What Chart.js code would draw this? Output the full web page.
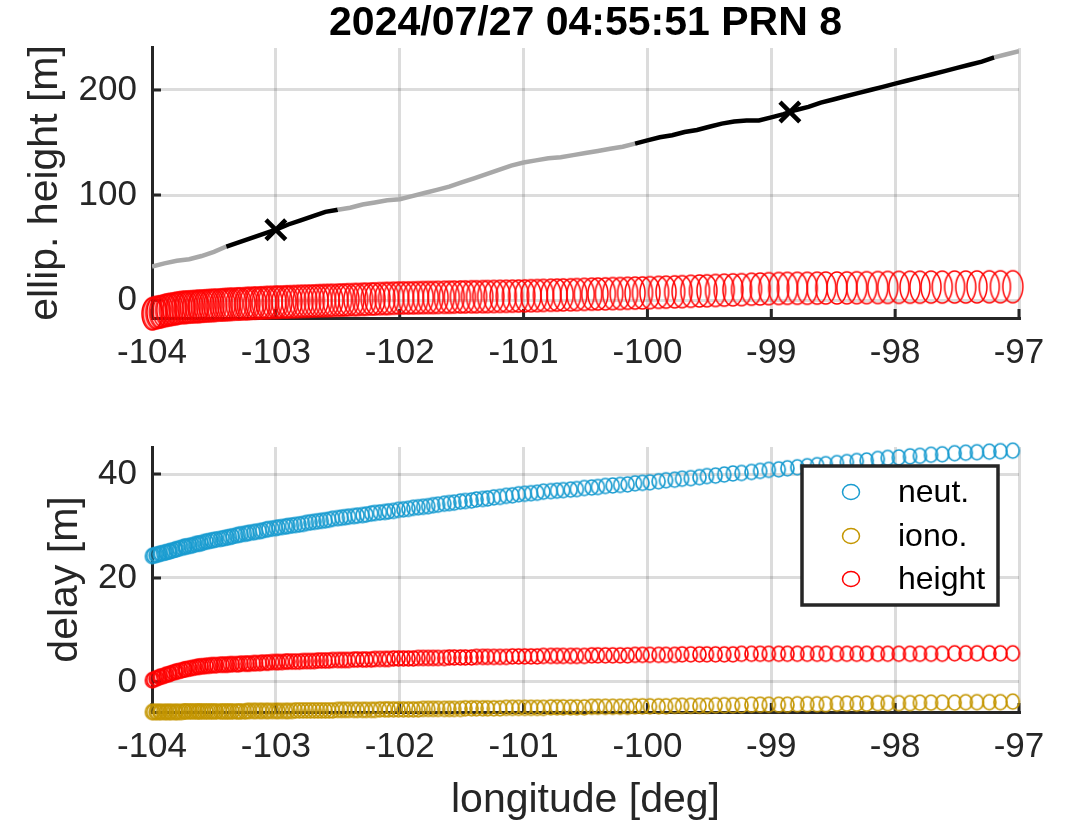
<!DOCTYPE html>
<html><head><meta charset="utf-8">
<script src="https://cdn.jsdelivr.net/npm/chart.js@4/dist/chart.umd.min.js"></script>
<style>
html,body{margin:0;padding:0;background:#fff;}
#wrap{position:relative;width:1066px;height:826px;overflow:hidden;}
canvas{position:absolute;left:0;}
#c1{top:0;} #c2{top:400px;}
</style></head><body>
<div id="wrap"><canvas id="c1" width="1066" height="400"></canvas><canvas id="c2" width="1066" height="426"></canvas></div>
<script>
const titleText = '2024/07/27 04:55:51 PRN 8';
const xTicks = [-104,-103,-102,-101,-100,-99,-98,-97];
const yTicksTop = [0,100,200];
const yTicksBottom = [0,20,40];
const seriesLabels = ['neut.','iono.','height'];

const lon = [-104.00,-103.99,-103.97,-103.96,-103.94,-103.93,-103.91,-103.89,-103.88,-103.86,
 -103.85,-103.83,-103.81,-103.80,-103.78,-103.76,-103.74,-103.73,-103.71,-103.69,
 -103.67,-103.65,-103.63,-103.62,-103.60,-103.58,-103.56,-103.54,-103.52,-103.50,
 -103.48,-103.45,-103.43,-103.41,-103.39,-103.37,-103.35,-103.32,-103.30,-103.28,
 -103.25,-103.23,-103.21,-103.18,-103.16,-103.13,-103.11,-103.08,-103.06,-103.03,
 -103.00,-102.98,-102.95,-102.92,-102.90,-102.87,-102.84,-102.81,-102.78,-102.75,
 -102.72,-102.69,-102.66,-102.63,-102.60,-102.57,-102.54,-102.50,-102.47,-102.44,
 -102.41,-102.37,-102.34,-102.30,-102.27,-102.23,-102.20,-102.16,-102.12,-102.09,
 -102.05,-102.01,-101.97,-101.93,-101.89,-101.85,-101.81,-101.77,-101.73,-101.69,
 -101.64,-101.60,-101.56,-101.51,-101.47,-101.42,-101.38,-101.33,-101.29,-101.24,
 -101.19,-101.14,-101.09,-101.04,-100.99,-100.94,-100.89,-100.84,-100.78,-100.73,
 -100.68,-100.62,-100.57,-100.51,-100.45,-100.40,-100.34,-100.28,-100.22,-100.16,
 -100.10,-100.04,-99.98,-99.91,-99.85,-99.78,-99.72,-99.65,-99.58,-99.52,
 -99.45,-99.38,-99.31,-99.24,-99.16,-99.09,-99.02,-98.94,-98.87,-98.79,
 -98.71,-98.63,-98.56,-98.47,-98.39,-98.31,-98.23,-98.14,-98.06,-97.97,
 -97.88,-97.80,-97.71,-97.62,-97.52,-97.43,-97.34,-97.24,-97.15,-97.05];

const heightTop = [-13.0,-12.7,-12.0,-11.7,-11.3,-11.0,-10.4,-9.8,-9.5,-9.1,
 -8.8,-8.5,-8.1,-7.8,-7.4,-7.0,-6.9,-6.8,-6.6,-6.4,
 -6.3,-6.1,-6.0,-5.9,-5.7,-5.6,-5.4,-5.3,-5.1,-5.0,
 -4.8,-4.6,-4.5,-4.3,-4.2,-4.0,-3.9,-3.7,-3.6,-3.6,
 -3.4,-3.2,-3.1,-2.9,-2.8,-2.7,-2.6,-2.4,-2.3,-2.1,
 -2.0,-1.9,-1.8,-1.7,-1.6,-1.5,-1.4,-1.2,-1.1,-1.0,
 -0.9,-0.8,-0.6,-0.5,-0.4,-0.3,-0.2,0.0,0.1,0.2,
 0.4,0.5,0.6,0.8,0.9,1.1,1.2,1.4,1.5,1.6,
 1.8,2.0,2.1,2.1,2.2,2.3,2.4,2.5,2.5,2.6,
 2.7,2.8,2.9,3.0,3.1,3.2,3.2,3.3,3.4,3.5,
 3.6,3.7,3.8,3.9,4.0,4.2,4.3,4.5,4.7,4.8,
 5.0,5.1,5.3,5.5,5.7,5.8,6.0,6.2,6.3,6.5,
 6.7,6.9,7.1,7.4,7.6,7.9,8.1,8.4,8.7,8.9,
 9.2,9.5,9.8,10.0,10.4,10.6,10.9,11.1,11.2,11.3,
 11.3,11.4,11.5,11.6,11.7,11.8,11.9,12.0,12.1,12.2,
 12.3,12.3,12.4,12.4,12.5,12.5,12.6,12.7,12.7,12.8];

const neut = [24.2,24.3,24.4,24.5,24.6,24.7,24.8,24.9,25.0,25.1,
 25.2,25.3,25.5,25.5,25.7,25.8,26.0,26.0,26.1,26.2,
 26.3,26.5,26.6,26.6,26.7,26.9,27.0,27.1,27.2,27.3,
 27.4,27.5,27.6,27.7,27.8,27.9,28.0,28.2,28.3,28.4,
 28.5,28.6,28.7,28.8,28.9,29.0,29.1,29.3,29.4,29.5,
 29.6,29.7,29.8,29.9,30.0,30.1,30.2,30.3,30.4,30.6,
 30.7,30.8,30.9,31.0,31.1,31.2,31.4,31.5,31.6,31.7,
 31.8,31.9,32.0,32.1,32.2,32.4,32.5,32.6,32.7,32.8,
 32.9,33.1,33.2,33.3,33.5,33.6,33.7,33.8,34.0,34.1,
 34.3,34.4,34.5,34.7,34.8,34.9,35.1,35.2,35.3,35.5,
 35.6,35.8,35.9,36.1,36.2,36.3,36.4,36.6,36.7,36.8,
 36.9,37.0,37.1,37.3,37.4,37.5,37.7,37.8,37.9,38.0,
 38.2,38.3,38.4,38.6,38.8,38.9,39.1,39.2,39.4,39.6,
 39.7,39.9,40.1,40.2,40.4,40.6,40.8,40.9,41.1,41.3,
 41.5,41.7,41.9,42.1,42.3,42.5,42.6,42.9,43.1,43.2,
 43.4,43.5,43.7,43.8,44.0,44.1,44.2,44.3,44.4,44.5];

const iono = [-5.8,-5.8,-5.8,-5.8,-5.8,-5.8,-5.8,-5.8,-5.8,-5.8,
 -5.8,-5.8,-5.8,-5.8,-5.8,-5.8,-5.7,-5.7,-5.7,-5.7,
 -5.7,-5.7,-5.7,-5.7,-5.7,-5.7,-5.7,-5.7,-5.7,-5.7,
 -5.7,-5.7,-5.7,-5.7,-5.7,-5.7,-5.7,-5.7,-5.7,-5.7,
 -5.7,-5.6,-5.6,-5.6,-5.6,-5.6,-5.6,-5.6,-5.6,-5.6,
 -5.6,-5.6,-5.6,-5.6,-5.6,-5.6,-5.5,-5.5,-5.5,-5.5,
 -5.5,-5.5,-5.5,-5.5,-5.5,-5.5,-5.5,-5.4,-5.4,-5.4,
 -5.4,-5.4,-5.4,-5.4,-5.4,-5.4,-5.4,-5.3,-5.3,-5.3,
 -5.3,-5.3,-5.3,-5.3,-5.3,-5.3,-5.2,-5.2,-5.2,-5.2,
 -5.2,-5.2,-5.2,-5.2,-5.1,-5.1,-5.1,-5.1,-5.1,-5.1,
 -5.1,-5.0,-5.0,-5.0,-5.0,-5.0,-5.0,-5.0,-4.9,-4.9,
 -4.9,-4.9,-4.9,-4.9,-4.8,-4.8,-4.8,-4.8,-4.8,-4.8,
 -4.7,-4.7,-4.7,-4.7,-4.7,-4.6,-4.6,-4.6,-4.6,-4.6,
 -4.5,-4.5,-4.5,-4.5,-4.4,-4.4,-4.4,-4.4,-4.4,-4.3,
 -4.3,-4.3,-4.3,-4.2,-4.2,-4.2,-4.2,-4.1,-4.1,-4.1,
 -4.1,-4.0,-4.0,-4.0,-4.0,-3.9,-3.9,-3.9,-3.9,-3.8];

const heightDelay = [0.3,0.4,0.6,0.7,0.9,1.0,1.1,1.3,1.4,1.5,
 1.6,1.8,1.9,2.0,2.1,2.2,2.4,2.4,2.5,2.6,
 2.7,2.8,2.9,2.9,3.0,3.0,3.1,3.1,3.2,3.2,
 3.2,3.3,3.3,3.3,3.3,3.4,3.4,3.4,3.4,3.5,
 3.5,3.5,3.5,3.6,3.6,3.6,3.7,3.7,3.7,3.8,
 3.8,3.8,3.8,3.9,3.9,3.9,3.9,3.9,4.0,4.0,
 4.0,4.0,4.1,4.1,4.1,4.1,4.2,4.2,4.2,4.2,
 4.2,4.3,4.3,4.3,4.3,4.3,4.4,4.4,4.4,4.4,
 4.5,4.5,4.5,4.5,4.5,4.6,4.6,4.6,4.6,4.6,
 4.6,4.7,4.7,4.7,4.7,4.7,4.8,4.8,4.8,4.8,
 4.8,4.8,4.9,4.9,4.9,4.9,4.9,5.0,5.0,5.0,
 5.0,5.0,5.0,5.0,5.1,5.1,5.1,5.1,5.1,5.1,
 5.2,5.2,5.2,5.2,5.2,5.2,5.3,5.3,5.3,5.3,
 5.3,5.3,5.3,5.4,5.4,5.4,5.4,5.4,5.4,5.4,
 5.4,5.4,5.4,5.4,5.4,5.4,5.4,5.4,5.4,5.4,
 5.4,5.4,5.4,5.4,5.5,5.5,5.5,5.5,5.5,5.5];

const lineLon = [-104.0,-103.9,-103.8,-103.7,-103.6,-103.5,-103.4,-103.3,-103.2,-103.1,
 -103.0,-102.9,-102.8,-102.7,-102.6,-102.5,-102.4,-102.3,-102.2,-102.1,
 -102.0,-101.9,-101.8,-101.7,-101.6,-101.5,-101.4,-101.3,-101.2,-101.1,
 -101.0,-100.9,-100.8,-100.7,-100.6,-100.5,-100.4,-100.3,-100.2,-100.1,
 -100.0,-99.9,-99.8,-99.7,-99.6,-99.5,-99.4,-99.3,-99.2,-99.1,
 -99.0,-98.9,-98.8,-98.7,-98.6,-98.5,-98.4,-98.3,-98.2,-98.1,
 -98.0,-97.9,-97.8,-97.7,-97.6,-97.5,-97.4,-97.3,-97.2,-97.1,-97.0];
const ellipHeight = [32,35,37.5,39,42,46,51,55,59,63,
 67,72,76,80,84,86,88,91,93,95,
 96,99,102,105,108,112,116,120,124,128,
 131,133,135,136,138,140,142,144,146,149,
 152,155,157,160,162,165,168,170,171,171,
 174,177,181,184,188,191,194,197,200,203,
 206,209,212,215,218,221,224,227,231,234,237];
// 1 = black segment, 0 = gray segment (segment starting at that point)
const lineState = [0,0,0,0,0,0,1,1,1,1,
 1,1,1,1,1,0,0,0,0,0,
 0,0,0,0,0,0,0,0,0,0,
 0,0,0,0,0,0,0,0,0,1,
 1,1,1,1,1,1,1,1,1,1,
 1,1,1,1,1,1,1,1,1,1,
 1,1,1,1,1,1,1,1,0,0,0];
const markLon = [-103.0,-98.85];
const markHeight = [67,179];

const FONT = "'Liberation Sans', Arial, Helvetica, sans-serif";
const AX = '#262626';
const GRID = 'rgba(38,38,38,0.16)';
const C_NEUT = '#1a9cd0';
const C_IONO = '#c49600';
const C_HGT = '#ff0000';
const C_GRAY = '#a8a8a8';

function ellipseImg(w, h, color, lw){
  const c = document.createElement('canvas');
  c.width = Math.ceil(w + lw + 2); c.height = Math.ceil(h + lw + 2);
  const g = c.getContext('2d');
  g.strokeStyle = color; g.lineWidth = lw;
  g.beginPath(); g.ellipse(c.width/2, c.height/2, w/2, h/2, 0, 0, Math.PI*2); g.stroke();
  return c;
}
const bigRed = ellipseImg(20, 32, C_HGT, 1.5);
const smNeut = ellipseImg(13, 15, C_NEUT, 1.7);
const smIono = ellipseImg(13, 15, C_IONO, 1.7);
const smHgt = ellipseImg(13, 15, C_HGT, 1.7);

function pts(xs, ys){ return xs.map((x,i)=>({x:x, y:ys[i]})); }

function xScale(h, withTitle){
  return {
    type:'linear', min:-104, max:-97,
    afterBuildTicks: s => { s.ticks = xTicks.map(v=>({value:v})); },
    afterFit: s => { s.height = h; s.paddingLeft = 0; s.paddingRight = 0; },
    ticks:{ font:{family:FONT,size:35}, color:AX, padding:14, maxRotation:0, autoSkip:false, callback: v => String(v) },
    grid:{ color:GRID, lineWidth:3, drawTicks:false },
    border:{ color:AX, width:3 },
    title: withTitle ? { display:true, text:'longitude [deg]', color:AX, font:{family:FONT,size:41}, padding:{top:0,bottom:1} } : {display:false}
  };
}
function yScale(min, max, ticks, label, titlePad){
  return {
    type:'linear', min:min, max:max,
    afterBuildTicks: s => { s.ticks = ticks.map(v=>({value:v})); },
    afterFit: s => { s.width = 152; s.paddingTop = 0; s.paddingBottom = 0; },
    ticks:{ font:{family:FONT,size:35}, color:AX, padding:15, callback: v => String(v) },
    grid:{ color:GRID, lineWidth:3, drawTicks:false },
    border:{ color:AX, width:3 },
    title:{ display:true, text:label, color:AX, font:{family:FONT,size:41}, padding:{top:titlePad,bottom:0} }
  };
}

const inTicks = {
  id:'inTicks',
  beforeDatasetsDraw(chart){
    const ctx = chart.ctx, a = chart.chartArea, x = chart.scales.x, y = chart.scales.y;
    ctx.save(); ctx.strokeStyle = AX; ctx.lineWidth = 3; ctx.beginPath();
    x.ticks.forEach(t => { const p = x.getPixelForValue(t.value); ctx.moveTo(p, a.bottom); ctx.lineTo(p, a.bottom - 9); });
    y.ticks.forEach(t => { const p = y.getPixelForValue(t.value); ctx.moveTo(a.left, p); ctx.lineTo(a.left + 9, p); });
    ctx.stroke(); ctx.restore();
  }
};

const boxLegend = {
  id:'boxLegend',
  afterDatasetsDraw(chart){
    const ctx = chart.ctx;
    const bx = 802, by = 66, bw = 196, bh = 139;
    ctx.save();
    ctx.fillStyle = '#fff'; ctx.fillRect(bx, by, bw, bh);
    ctx.strokeStyle = AX; ctx.lineWidth = 3.5; ctx.strokeRect(bx, by, bw, bh);
    const rows = [92, 136, 179];
    chart.data.datasets.forEach((ds, i) => {
      ctx.strokeStyle = ds.legendColor; ctx.lineWidth = 1.5;
      ctx.beginPath(); ctx.ellipse(851, rows[i], 8.5, 7.5, 0, 0, Math.PI*2); ctx.stroke();
      ctx.fillStyle = '#000'; ctx.font = '32px ' + FONT; ctx.textBaseline = 'middle'; ctx.textAlign = 'left';
      ctx.fillText(ds.label, 898, rows[i] + 1);
    });
    ctx.restore();
  }
};

const common = { responsive:false, animation:false, devicePixelRatio:1, events:[] };

new Chart(document.getElementById('c1'), {
  type:'line',
  data:{ datasets:[
    { label:'x', data:pts(markLon, markHeight), showLine:false, pointStyle:'crossRot', pointRadius:14, borderColor:'#000', borderWidth:4.5, clip:false },
    { label:'ellip. height', data:pts(lineLon, ellipHeight), pointRadius:0, borderWidth:4.5, borderColor:C_GRAY, tension:0,
      segment:{ borderColor: c => lineState[c.p0DataIndex] ? '#000' : C_GRAY } },
    { label:'height', data:pts(lon, heightTop), showLine:false, pointStyle:bigRed, pointRadius:10, borderColor:C_HGT, clip:false }
  ]},
  options:Object.assign({}, common, {
    layout:{ padding:{left:0,right:47,top:0,bottom:0} },
    scales:{ x:xScale(82, false), y:yScale(-17, 240, yTicksTop, 'ellip. height [m]', 21) },
    plugins:{ legend:{display:false}, tooltip:{enabled:false},
      title:{ display:true, text:titleText, color:'#000', fullSize:false, padding:0, font:{family:FONT,size:41,weight:'bold',lineHeight:1.17} } }
  }),
  plugins:[inTicks]
});

new Chart(document.getElementById('c2'), {
  type:'line',
  data:{ datasets:[
    { label:seriesLabels[0], legendColor:C_NEUT, data:pts(lon, neut), showLine:false, pointStyle:smNeut, pointRadius:7, borderColor:C_NEUT, clip:false },
    { label:seriesLabels[1], legendColor:C_IONO, data:pts(lon, iono), showLine:false, pointStyle:smIono, pointRadius:7, borderColor:C_IONO, clip:false },
    { label:seriesLabels[2], legendColor:C_HGT, data:pts(lon, heightDelay), showLine:false, pointStyle:smHgt, pointRadius:7, borderColor:C_HGT, clip:false }
  ]},
  options:Object.assign({}, common, {
    layout:{ padding:{left:0,right:47,top:47,bottom:0} },
    scales:{ x:xScale(114, true), y:yScale(-5.8, 45.2, yTicksBottom, 'delay [m]', 41) },
    plugins:{ legend:{display:false}, tooltip:{enabled:false}, title:{display:false} }
  }),
  plugins:[inTicks, boxLegend]
});
</script>
</body></html>
